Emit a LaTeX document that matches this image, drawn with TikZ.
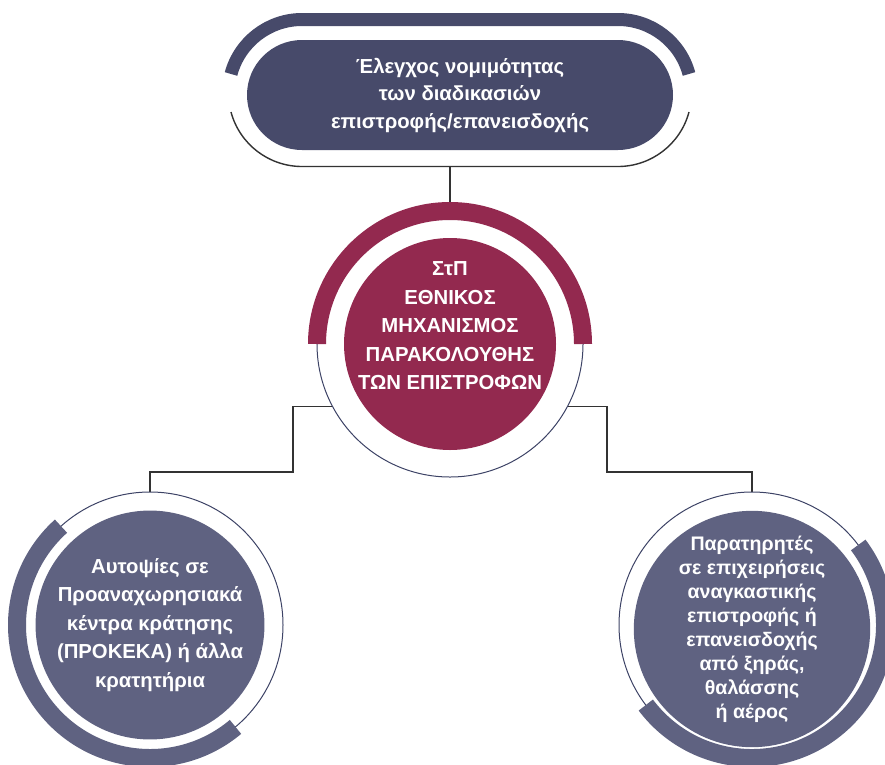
\documentclass[tikz,border=0pt]{standalone}
\usepackage{fontspec}
\setmainfont{Liberation Sans}

\definecolor{slate}{HTML}{474A6A}
\definecolor{slatelight}{HTML}{5F6281}
\definecolor{wine}{HTML}{93294F}
\definecolor{navyline}{HTML}{3D4366}
\definecolor{linkgray}{HTML}{333333}

\pgfdeclarelayer{bg}
\pgfsetlayers{bg,main}

\begin{document}
\begin{tikzpicture}[x=1pt, y=1pt,
        txt/.style={text=white, align=center, font=\bfseries\fontsize{20.3}{28.5}\selectfont},
        hub/.style={circle, fill=wine, minimum size=212pt, inner sep=0pt},
        side/.style={circle, fill=slatelight, minimum size=214pt, inner sep=0pt, txt},
        ring/.style={circle, draw=navyline, line width=1pt, minimum size=266pt, inner sep=0pt},
        band/.style={line width=18pt},
        link/.style={draw=linkgray, line width=1.4pt}]

        \useasboundingbox (0,0) rectangle (885,-764);

        % Nodes
        \node[rectangle, rounded corners=55pt, fill=slate, minimum width=426pt, minimum height=110pt, txt,
              font=\bfseries\fontsize{20.3}{27.5}\selectfont] (ctrl) at (460,-95)
              {Έλεγχος νομιμότητας\\των διαδικασιών\\επιστροφής/επανεισδοχής};
        \coordinate (ctrl-bot) at (450,-166.5);

        \node[ring] (nm-ring) at (450,-344) {};
        \node[hub] (nm) at (450,-344) {};
        \node[txt] (nm-text) at (450,-326) {ΣτΠ\\ΕΘΝΙΚΟΣ\\ΜΗΧΑΝΙΣΜΟΣ\\ΠΑΡΑΚΟΛΟΥΘΗΣ\\ΤΩΝ ΕΠΙΣΤΡΟΦΩΝ};

        \node[ring] (aut-ring) at (150,-625) {};
        \node[side] (aut) at (150,-625) {Αυτοψίες σε\\Προαναχωρησιακά\\κέντρα κράτησης\\(ΠΡΟΚΕΚΑ) ή άλλα\\κρατητήρια};

        \node[ring] (obs-ring) at (752,-625) {};
        \node[side, font=\bfseries\fontsize{19.6}{24}\selectfont] (obs) at (752,-629)
              {Παρατηρητές\\σε επιχειρήσεις\\αναγκαστικής\\επιστροφής ή\\επανεισδοχής\\από ξηράς,\\θαλάσσης\\ή αέρος};

        % Rings
        \draw[slate, line width=13pt] (302,-93) ++(165:73.5) arc[start angle=165, end angle=90, radius=73.5]
              -- (618,-19.5) arc[start angle=90, end angle=15, radius=73.5];
        \draw[linkgray, line width=1.4pt] (302,-93) ++(195:73.5) arc[start angle=195, end angle=270, radius=73.5]
              -- (618,-166.5) arc[start angle=270, end angle=345, radius=73.5];
        \draw[wine, band] (nm.center) ++(0:133) arc[start angle=0, end angle=180, radius=133];
        \draw[slatelight, band] (aut-ring.center) ++(132:133) arc[start angle=132, end angle=310, radius=133];
        \draw[slatelight, band] (obs-ring.center) ++(37:133) arc[start angle=37, end angle=-143, radius=133];

        % Edges
        \begin{pgfonlayer}{bg}
                \coordinate (kneeL) at (293,-472);
                \coordinate (kneeR) at (607,-472);
                \draw[link] (ctrl-bot) -- (nm-ring.north);
                \draw[link] (nm-ring.208) -| (kneeL) -| (aut-ring.north);
                \draw[link] (nm-ring.-28) -| (kneeR) -| (obs-ring.north);
        \end{pgfonlayer}

\end{tikzpicture}
\end{document}
